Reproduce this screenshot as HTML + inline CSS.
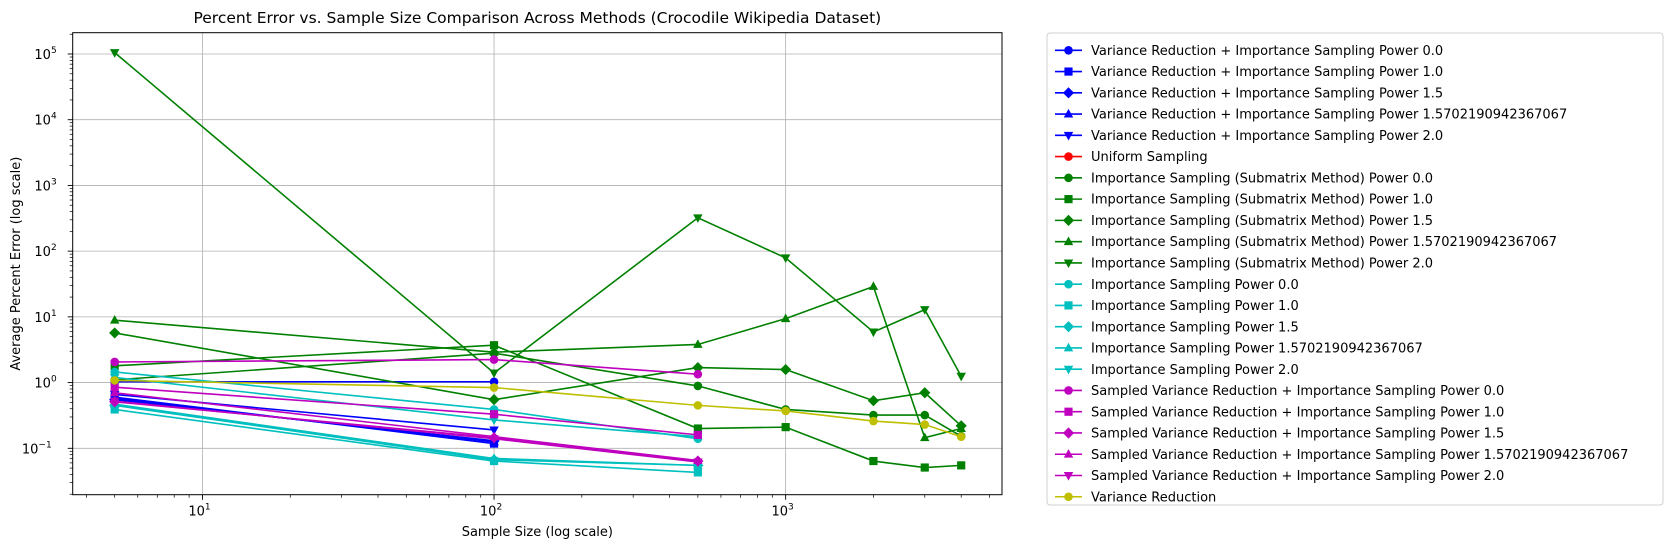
<!DOCTYPE html>
<html><head><meta charset="utf-8"><style>
body{margin:0;background:#fff;}
svg{display:block;font-family:"DejaVu Sans","Liberation Sans",sans-serif;}
</style></head><body>
<svg id="chart" width="1679" height="552" xmlns="http://www.w3.org/2000/svg"></svg>
<script>
const sampleSizes=[5,100,500,1000,2000,3000,4000];
const seriesNames=["Variance Reduction + Importance Sampling Power 0.0","Variance Reduction + Importance Sampling Power 1.0","Variance Reduction + Importance Sampling Power 1.5","Variance Reduction + Importance Sampling Power 1.5702190942367067","Variance Reduction + Importance Sampling Power 2.0","Uniform Sampling","Importance Sampling (Submatrix Method) Power 0.0","Importance Sampling (Submatrix Method) Power 1.0","Importance Sampling (Submatrix Method) Power 1.5","Importance Sampling (Submatrix Method) Power 1.5702190942367067","Importance Sampling (Submatrix Method) Power 2.0","Importance Sampling Power 0.0","Importance Sampling Power 1.0","Importance Sampling Power 1.5","Importance Sampling Power 1.5702190942367067","Importance Sampling Power 2.0","Sampled Variance Reduction + Importance Sampling Power 0.0","Sampled Variance Reduction + Importance Sampling Power 1.0","Sampled Variance Reduction + Importance Sampling Power 1.5","Sampled Variance Reduction + Importance Sampling Power 1.5702190942367067","Sampled Variance Reduction + Importance Sampling Power 2.0","Variance Reduction"];
const seriesColors=["#0000ff","#0000ff","#0000ff","#0000ff","#0000ff","#ff0000","#008000","#008000","#008000","#008000","#008000","#00bfbf","#00bfbf","#00bfbf","#00bfbf","#00bfbf","#bf00bf","#bf00bf","#bf00bf","#bf00bf","#bf00bf","#bfbf00"];
const seriesMarkers=["o","s","D","^","v","o","o","s","D","^","v","o","s","D","^","v","o","s","D","^","v","o"];
const vrisP00=[1.03,1.03];
const vrisP10=[0.6,0.118];
const vrisP15=[0.55,0.13];
const vrisP157=[0.57,0.125];
const vrisP20=[0.66,0.19];
const uniform=[];
const subP00=[1.1,2.8,0.89,0.39,0.32,0.32,0.153];
const subP10=[1.8,3.7,0.2,0.21,0.064,0.051,0.055];
const subP15=[5.7,0.55,1.69,1.58,0.53,0.7,0.22];
const subP157=[8.9,2.9,3.8,9.4,29,0.145,0.2];
const subP20=[105000,1.4,322,79,5.9,12.9,1.25];
const isP00=[1.45,0.39,0.14];
const isP10=[0.39,0.064,0.043];
const isP15=[0.45,0.067,0.055];
const isP157=[0.47,0.07,0.055];
const isP20=[1.2,0.27,0.15];
const svrP00=[2.06,2.24,1.34];
const svrP10=[0.85,0.33,0.16];
const svrP15=[0.51,0.145,0.064];
const svrP157=[0.7,0.15,0.065];
const svrP20=[0.52,0.14,0.062];
const vrOnly=[1.08,0.84,0.45,0.37,0.26,0.23,0.15];
const seriesValues=[vrisP00,vrisP10,vrisP15,vrisP157,vrisP20,uniform,subP00,subP10,subP15,subP157,subP20,isP00,isP10,isP15,isP157,isP20,svrP00,svrP10,svrP15,svrP157,svrP20,vrOnly];
const xTickExps=[1,2,3];
const yTickExps=[-1,0,1,2,3,4,5];

const NS="http://www.w3.org/2000/svg";
const svg=document.getElementById('chart');
const L=72.7,R=1002,T=32.7,B=494.7;
const xMin=0.555,xMax=3.742,yMin=-1.706,yMax=5.324;
function xs(v){return L+(Math.log10(v)-xMin)/(xMax-xMin)*(R-L);}
function ys(v){return B-(Math.log10(v)-yMin)/(yMax-yMin)*(B-T);}
function mk(tag,attrs,parent){const e=document.createElementNS(NS,tag);for(const k in attrs)e.setAttribute(k,attrs[k]);(parent||svg).appendChild(e);return e;}
function marker(m,x,y,c,parent,s){
  s=s||4.3;let e;
  if(m==="o")e=mk('circle',{cx:x,cy:y,r:s,fill:c},parent);
  else if(m==="s")e=mk('rect',{x:x-s*0.95,y:y-s*0.95,width:1.9*s,height:1.9*s,fill:c},parent);
  else if(m==="D")e=mk('polygon',{points:`${x},${y-s*1.3} ${x+s*1.3},${y} ${x},${y+s*1.3} ${x-s*1.3},${y}`,fill:c},parent);
  else if(m==="^")e=mk('polygon',{points:`${x},${y-s*1.2} ${x+s*1.1},${y+s*0.8} ${x-s*1.1},${y+s*0.8}`,fill:c},parent);
  else e=mk('polygon',{points:`${x},${y+s*1.2} ${x+s*1.1},${y-s*0.8} ${x-s*1.1},${y-s*0.8}`,fill:c},parent);
  return e;
}
const grid=mk('g',{});


xTickExps.forEach(e=>{const x=xs(Math.pow(10,e));mk('line',{x1:x,x2:x,y1:T,y2:B,stroke:'#b0b0b0','stroke-width':0.8},grid);});
yTickExps.forEach(e=>{const y=ys(Math.pow(10,e));mk('line',{x1:L,x2:R,y1:y,y2:y,stroke:'#b0b0b0','stroke-width':0.8},grid);});
seriesValues.forEach((vals,i)=>{
  if(!vals.length)return;
  const g=mk('g',{});
  
  
  const pts=vals.map((v,j)=>[xs(sampleSizes[j]),ys(v)]);
  mk('polyline',{points:pts.map(p=>p.join(',')).join(' '),fill:'none',stroke:seriesColors[i],'stroke-width':1.6},g);
  pts.forEach(p=>{const m=marker(seriesMarkers[i],p[0],p[1],seriesColors[i],g);
    
    });
});
const box=mk('rect',{x:L,y:T,width:R-L,height:B-T,fill:'none',stroke:'#000','stroke-width':1});


const xt=mk('g',{});


for(let e=0;e<=3;e++)for(let k=1;k<10;k++){const v=k*Math.pow(10,e);const lv=Math.log10(v);if(lv<xMin||lv>xMax)continue;const x=xs(v);mk('line',{x1:x,x2:x,y1:B,y2:B+(k===1?5:3),stroke:'#000','stroke-width':k===1?0.9:0.7},xt);}
xTickExps.forEach(e=>{const x=xs(Math.pow(10,e));const t=mk('text',{x:x-3,y:B+21,'font-size':13,'text-anchor':'middle',fill:'#000'},xt);t.textContent='10';const s=mk('tspan',{dy:-6,'font-size':9},t);s.textContent=String(e);});
const yt=mk('g',{});


for(let e=-2;e<=5;e++)for(let k=1;k<10;k++){const v=k*Math.pow(10,e);const lv=Math.log10(v);if(lv<yMin||lv>yMax)continue;const y=ys(v);mk('line',{x1:L,x2:L-(k===1?5:3),y1:y,y2:y,stroke:'#000','stroke-width':k===1?0.9:0.7},yt);}
yTickExps.forEach(e=>{const y=ys(Math.pow(10,e));const t=mk('text',{x:e<0?L-21:L-16,y:y+5,'font-size':13,'text-anchor':'end',fill:'#000'},yt);t.textContent='10';const s=mk('tspan',{dy:-6,'font-size':9},t);s.textContent=e<0?'\u2212'+(-e):String(e);});
const xl=mk('text',{x:(L+R)/2,y:536,'font-size':13,'text-anchor':'middle'});xl.textContent='Sample Size (log scale)';

const yl=mk('text',{x:20,y:(T+B)/2,'font-size':13,'text-anchor':'middle',transform:`rotate(-90 20 ${(T+B)/2})`});yl.textContent='Average Percent Error (log scale)';

const ti=mk('text',{x:(L+R)/2,y:23,'font-size':15.5,'text-anchor':'middle'});ti.textContent='Percent Error vs. Sample Size Comparison Across Methods (Crocodile Wikipedia Dataset)';

const lg=mk('g',{});


mk('rect',{x:1047,y:33,width:616,height:472,rx:3,fill:'#fff',stroke:'#d0d0d0','stroke-width':1},lg);
seriesNames.forEach((n,i)=>{
  const y=50.3+i*21.26;
  const e=mk('g',{},lg);
  
  
  mk('line',{x1:1055,x2:1082,y1:y,y2:y,stroke:seriesColors[i],'stroke-width':1.6},e);
  marker(seriesMarkers[i],1068.5,y,seriesColors[i],e);
  const t=mk('text',{x:1091,y:y+4.6,'font-size':13},e);t.textContent=n;
});
</script>
</body></html>
